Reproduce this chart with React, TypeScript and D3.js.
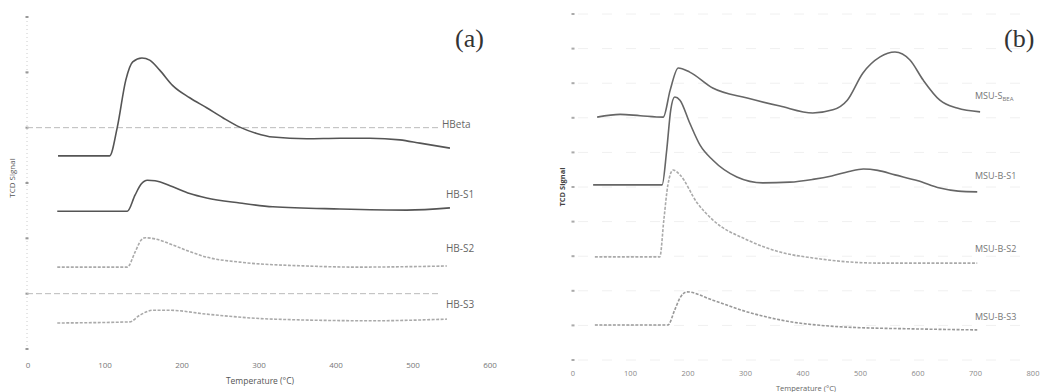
import React from "react";
import * as d3 from "d3";

// ---------- Panel (a) data: temperature (°C) and TCD signal (a.u.) ----------
const hbetaT = [39, 106, 116, 127, 136, 148, 158, 171, 188, 210, 232, 253, 275, 296, 318, 362, 405, 444, 483, 509, 548];
const hbetaV = [3.49, 3.49, 4.01, 4.86, 5.19, 5.26, 5.22, 5.04, 4.76, 4.54, 4.36, 4.18, 4.01, 3.9, 3.83, 3.8, 3.81, 3.81, 3.78, 3.72, 3.63];
const hbs1T = [38, 129, 139, 147, 155, 165, 188, 210, 232, 275, 318, 405, 492, 548];
const hbs1V = [2.49, 2.49, 2.78, 2.98, 3.05, 3.04, 2.93, 2.81, 2.73, 2.64, 2.57, 2.53, 2.51, 2.55];
const hbs2T = [38, 129, 139, 147, 152, 165, 188, 210, 232, 275, 362, 427, 544];
const hbs2V = [1.48, 1.48, 1.75, 1.97, 2.01, 1.99, 1.88, 1.76, 1.66, 1.57, 1.5, 1.48, 1.5];
const hbs3T = [38, 132, 145, 162, 184, 232, 318, 448, 544];
const hbs3V = [0.47, 0.49, 0.61, 0.7, 0.7, 0.63, 0.54, 0.51, 0.54];
const leftSeriesNames = ["HBeta", "HB-S1", "HB-S2", "HB-S3"];
const leftLabelV = [4.05, 2.78, 1.8, 0.79];
const leftXTicks = [0, 100, 200, 300, 400, 500, 600];
const leftYTicks = [0, 1, 2, 3, 4, 5, 6];
const leftGridV = [4, 1];

// ---------- Panel (b) data ----------
const msuBeaT = [42, 82, 117, 157, 169, 183, 203, 243, 303, 360, 417, 452, 477, 504, 534, 560, 586, 609, 638, 668, 708];
const msuBeaV = [7.02, 7.1, 7.06, 7.02, 7.8, 8.44, 8.32, 7.86, 7.57, 7.34, 7.14, 7.23, 7.51, 8.29, 8.76, 8.9, 8.67, 8.09, 7.51, 7.28, 7.17];
const msuS1T = [35, 155, 163, 170, 177, 186, 203, 221, 243, 285, 330, 377, 417, 450, 480, 505, 530, 560, 600, 638, 670, 703];
const msuS1V = [5.06, 5.06, 6.07, 7.23, 7.6, 7.51, 6.85, 6.21, 5.78, 5.29, 5.12, 5.14, 5.22, 5.32, 5.45, 5.52, 5.48, 5.35, 5.18, 4.97, 4.88, 4.86];
const msuS2T = [38, 151, 158, 165, 174, 186, 216, 243, 303, 360, 417, 534, 703];
const msuS2V = [2.98, 2.98, 4.05, 5.06, 5.49, 5.35, 4.54, 4.05, 3.47, 3.12, 2.95, 2.8, 2.8];
const msuS3T = [38, 165, 177, 186, 198, 243, 303, 360, 477, 591, 703];
const msuS3V = [1.01, 1.01, 1.45, 1.79, 1.97, 1.73, 1.39, 1.16, 0.95, 0.9, 0.87];
const rightSeriesNames = ["MSU-S", "MSU-B-S1", "MSU-B-S2", "MSU-B-S3"];
const rightLabelV = [7.6, 5.3, 3.2, 1.24];
const rightXTicks = [0, 100, 200, 300, 400, 500, 600, 700, 800];
const rightYTicks = [0, 1, 2, 3, 4, 5, 6, 7, 8, 9, 10];

const FONT = "'Open Sans', 'DejaVu Sans', sans-serif";

type Series = { t: number[]; v: number[]; color: string; dash?: string };

function makeLine(x: d3.ScaleLinear<number, number>, y: d3.ScaleLinear<number, number>, s: Series) {
  const pts = s.t.map((t, i) => [t, s.v[i]] as [number, number]);
  return d3
    .line<[number, number]>()
    .x((d) => x(d[0]))
    .y((d) => y(d[1]))
    .curve(d3.curveMonotoneX)(pts) as string;
}

export default function App() {
  // Panel (a) scales
  const xL = d3.scaleLinear().domain([0, 600]).range([28, 490]);
  const yL = d3.scaleLinear().domain([0, 6]).range([349, 17]);
  // Panel (b) scales
  const xR = d3.scaleLinear().domain([0, 800]).range([573, 1033]);
  const yR = d3.scaleLinear().domain([0, 10]).range([360, 14]);

  const leftSeries: Series[] = [
    { t: hbetaT, v: hbetaV, color: "#555" },
    { t: hbs1T, v: hbs1V, color: "#555" },
    { t: hbs2T, v: hbs2V, color: "#aaa", dash: "3 1.5" },
    { t: hbs3T, v: hbs3V, color: "#aaa", dash: "3 1.5" },
  ];
  const rightSeries: Series[] = [
    { t: msuBeaT, v: msuBeaV, color: "#666" },
    { t: msuS1T, v: msuS1V, color: "#666" },
    { t: msuS2T, v: msuS2V, color: "#aaa", dash: "3 1.5" },
    { t: msuS3T, v: msuS3V, color: "#999", dash: "3 1.5" },
  ];

  return (
    <svg
      width={1044}
      height={392}
      style={{ position: "absolute", left: 0, top: 0, background: "#fff" }}
      fontFamily={FONT}
    >
      <rect width={1044} height={392} fill="#fff" />

      {/* ---------------- Panel (a) ---------------- */}
      <line x1={27} x2={27} y1={yL(6)} y2={yL(0)} stroke="#ccc" strokeWidth={1} strokeDasharray="1 3" />
      {leftYTicks.map((v) => (
        <rect key={"lyt" + v} x={25.5} y={yL(v) - 1} width={3} height={2} fill="#999" />
      ))}
      {leftGridV.map((v) => (
        <line key={"lg" + v} x1={27} x2={438} y1={yL(v)} y2={yL(v)} stroke="#bbb" strokeWidth={1} strokeDasharray="6 3" />
      ))}
      {leftSeries.map((s, i) => (
        <path
          key={"ls" + i}
          d={makeLine(xL, yL, s)}
          fill="none"
          stroke={s.color}
          strokeWidth={1.6}
          strokeDasharray={s.dash}
        />
      ))}
      {leftSeriesNames.map((n, i) => (
        <text
          key={"ln" + n}
          x={i === 0 ? 442 : 446}
          y={yL(leftLabelV[i])}
          fontSize={10}
          fill="#666"
          dominantBaseline="middle"
        >
          {n}
        </text>
      ))}
      {leftXTicks.map((t) => (
        <text key={"lxt" + t} x={xL(t)} y={366} fontSize={8} fill="#777" textAnchor="middle" dominantBaseline="middle">
          {t}
        </text>
      ))}
      <text x={260} y={382} fontSize={8.5} fill="#555" textAnchor="middle" dominantBaseline="middle">
        Temperature (°C)
      </text>
      <text
        transform={`translate(13,178) rotate(-90)`}
        fontSize={8}
        fill="#555"
        textAnchor="middle"
        dominantBaseline="middle"
      >
        TCD Signal
      </text>
      <text x={455} y={47} fontSize={26} fill="#333" fontFamily="'Liberation Serif', 'DejaVu Serif', serif">
        (a)
      </text>

      {/* ---------------- Panel (b) ---------------- */}
      {rightYTicks.map((v) => (
        <line key={"rg" + v} x1={578} x2={1030} y1={yR(v)} y2={yR(v)} stroke="#f0f0f0" strokeWidth={1} strokeDasharray="10 14" />
      ))}
      {rightYTicks.map((v) => (
        <rect key={"ryt" + v} x={571.5} y={yR(v) - 1} width={3} height={2} fill="#aaa" />
      ))}
      {rightSeries.map((s, i) => (
        <path
          key={"rs" + i}
          d={makeLine(xR, yR, s)}
          fill="none"
          stroke={s.color}
          strokeWidth={1.6}
          strokeDasharray={s.dash}
        />
      ))}
      {rightSeriesNames.map((n, i) => (
        <text key={"rn" + n} x={975} y={yR(rightLabelV[i])} fontSize={9} fill="#777" dominantBaseline="middle">
          {n}
          {i === 0 ? (
            <tspan fontSize={6} dy={2}>
              BEA
            </tspan>
          ) : null}
        </text>
      ))}
      {rightXTicks.map((t) => (
        <text key={"rxt" + t} x={xR(t)} y={374} fontSize={7.5} fill="#888" textAnchor="middle" dominantBaseline="middle">
          {t}
        </text>
      ))}
      <text x={806} y={389} fontSize={7.5} fill="#666" textAnchor="middle" dominantBaseline="middle">
        Temperature (°C)
      </text>
      <text
        transform={`translate(563,187) rotate(-90)`}
        fontSize={7.5}
        fill="#444"
        fontWeight="bold"
        textAnchor="middle"
        dominantBaseline="middle"
      >
        TCD Signal
      </text>
      <text x={1004} y={47} fontSize={26} fill="#333" fontFamily="'Liberation Serif', 'DejaVu Serif', serif">
        (b)
      </text>
    </svg>
  );
}
